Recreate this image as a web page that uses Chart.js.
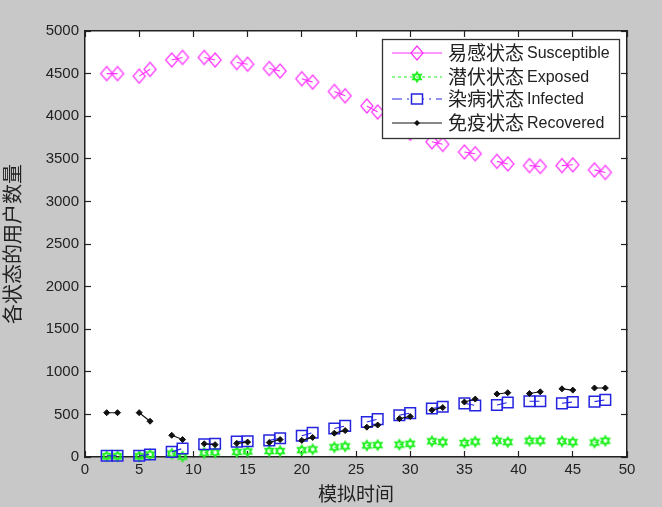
<!DOCTYPE html>
<html><head><meta charset="utf-8">
<script src="https://cdn.jsdelivr.net/npm/chart.js@4/dist/chart.umd.min.js"></script>
<style>html,body{margin:0;padding:0;background:#c8c8c8}canvas{display:block}</style>
</head><body>
<canvas id="c" width="662" height="507" style="width:662px;height:507px"></canvas>
<script>
const time = [2,3,4,5,6,7,8,9,10,11,12,13,14,15,16,17,18,19,20,21,22,23,24,25,26,27,28,29,30,31,32,33,34,35,36,37,38,39,40,41,42,43,44,45,46,47,48];
const susceptible = [4500,4500,null,4470,4550,null,4660,4690,null,4690,4660,null,4630,4610,null,4560,4530,null,4440,4400,null,4290,4240,null,4120,4050,null,3880,3800,null,3700,3670,null,3580,3560,null,3470,3440,null,3420,3410,null,3420,3430,null,3370,3340];
const exposed = [10,10,null,10,30,null,40,5,null,50,55,null,60,65,null,70,70,null,80,90,null,115,125,null,135,140,null,145,155,null,185,175,null,165,180,null,190,175,null,190,190,null,185,175,null,170,190];
const infected = [15,15,null,15,30,null,60,100,null,150,155,null,180,185,null,195,220,null,250,285,null,335,365,null,410,445,null,490,515,null,570,590,null,630,605,null,610,640,null,655,655,null,630,645,null,650,670];
const recovered = [520,520,null,520,420,null,255,205,null,155,145,null,160,175,null,170,205,null,195,230,null,280,310,null,350,375,null,450,475,null,550,580,null,645,680,null,740,755,null,745,765,null,800,785,null,810,810];
const seriesZh = ['易感状态','潜伏状态','染病状态','免疫状态'];
const seriesEn = ['Susceptible','Exposed','Infected','Recovered'];
const xTitle = '模拟时间';
const yTitle = '各状态的用户数量';

const MAGENTA='#ff30ff', GREEN='#20f020', BLUE='#2424e0', BLACK='#111111';
function sprite(w,h,fn){const s=document.createElement('canvas'),r=2;s.width=w*r;s.height=h*r;
  const g=s.getContext('2d');g.scale(r,r);fn(g,w/2,h/2);
  const out=document.createElement('canvas');out.width=w;out.height=h;out.getContext('2d').drawImage(s,0,0,w,h);return out;}
const diamond=sprite(16,18,(g,x,y)=>{g.strokeStyle=MAGENTA;g.lineWidth=1.3;g.beginPath();g.moveTo(x-6,y);g.lineTo(x,y-7);g.lineTo(x+6,y);g.lineTo(x,y+7);g.closePath();g.stroke();});
const hexagram=sprite(14,14,(g,x,y)=>{g.strokeStyle=GREEN;g.lineWidth=1.4;for(const a of [-Math.PI/2,Math.PI/2]){g.beginPath();for(let i=0;i<3;i++){const t=a+i*2*Math.PI/3;const px=x+5*Math.cos(t),py=y+5*Math.sin(t);i?g.lineTo(px,py):g.moveTo(px,py);}g.closePath();g.stroke();}});
const pts=a=>a.map((v,i)=>({x:time[i],y:v}));
const styles=[
 {color:MAGENTA,dash:[],point:diamond,radius:6,pw:1.2},
 {color:GREEN,dash:[3,3],point:hexagram,radius:5,pw:1.2},
 {color:BLUE,dash:[10,5,2,5],point:'rect',radius:7.5,pw:1.5},
 {color:BLACK,dash:[],point:'rectRot',radius:3,pw:1}
];
const seriesValues=[susceptible,exposed,infected,recovered];
const legendPlugin={id:'boxLegend',afterDraw(ch){const g=ch.ctx;g.save();
  const lx=382.5,ly=39.5,lw=237,lh=99;
  g.fillStyle='#fff';g.fillRect(lx,ly,lw,lh);g.strokeStyle='#333';g.lineWidth=1.3;g.strokeRect(lx,ly,lw,lh);
  const rows=[53,77,99,123];
  rows.forEach((y,i)=>{const s=styles[i];
    g.strokeStyle=s.color;g.lineWidth=1.2;g.setLineDash(s.dash);g.beginPath();g.moveTo(392,y);g.lineTo(442,y);g.stroke();g.setLineDash([]);
    if(i===0)g.drawImage(diamond,417-8,y-9);
    if(i===1)g.drawImage(hexagram,417-7,y-7);
    if(i===2){g.fillStyle='#fff';g.fillRect(411,y-5,12,10);g.strokeStyle=BLUE;g.lineWidth=1.5;g.strokeRect(411.5,y-5,11,10);}
    if(i===3){g.fillStyle=BLACK;g.beginPath();g.moveTo(417,y-3);g.lineTo(420,y);g.lineTo(417,y+3);g.lineTo(414,y);g.closePath();g.fill();}
    g.fillStyle='#222';g.textBaseline='middle';g.textAlign='left';
    g.font='19px "Noto Sans CJK SC"';g.fillText(seriesZh[i],448,y);
    g.font='16px "Liberation Sans"';g.fillText(seriesEn[i],527,y+1);
  });
  g.restore();}};
const bgPlugin={id:'bg',beforeDraw(ch){const g=ch.ctx,a=ch.chartArea;g.save();g.fillStyle='#c8c8c8';g.fillRect(0,0,ch.width,ch.height);g.fillStyle='#fff';g.fillRect(a.left,a.top,a.right-a.left,a.bottom-a.top);g.restore();}};
const tickFont={family:'"Liberation Sans"',size:15};
const axis=(extra)=>Object.assign({min:0,border:{color:'#222',width:1.5},grid:{drawOnChartArea:false,tickLength:-6,color:'#222',tickWidth:1.2},},extra);
new Chart(document.getElementById('c'),{
 type:'line',
 data:{datasets:seriesValues.map((v,i)=>({
   label:seriesEn[i],data:pts(v),order:4-i,borderColor:styles[i].color,backgroundColor:i===3?BLACK:'rgba(0,0,0,0)',
   borderWidth:1.1,borderDash:styles[i].dash,pointStyle:styles[i].point,pointRadius:styles[i].radius,pointHoverRadius:styles[i].radius,
   pointBorderColor:styles[i].color,pointBackgroundColor:i===3?BLACK:'rgba(0,0,0,0)',pointBorderWidth:styles[i].pw,spanGaps:false,tension:0,clip:false}))},
 options:{responsive:false,animation:false,devicePixelRatio:1,
  layout:{padding:{left:0,top:31,right:35,bottom:0}},
  plugins:{legend:{display:false},tooltip:{enabled:false}},
  scales:{
   x:axis({type:'linear',position:'bottom',max:50,afterFit:s=>{s.height=50},
     ticks:{stepSize:5,autoSkip:false,font:tickFont,color:'#222',padding:10,maxRotation:0,callback:v=>String(v)},
     title:{display:true,text:xTitle,color:'#222',font:{family:'"Noto Sans CJK SC"',size:19},padding:{top:0,bottom:2}}}),
   xTop:axis({type:'linear',position:'top',max:50,afterFit:s=>{s.height=0},ticks:{stepSize:5,autoSkip:false,display:false}}),
   y:axis({type:'linear',position:'left',max:5000,afterFit:s=>{s.width=85},
     ticks:{stepSize:500,autoSkip:false,font:tickFont,color:'#222',padding:12,callback:v=>String(v)},
     title:{display:true,text:yTitle,color:'#222',font:{family:'"Noto Sans CJK SC"',size:20},padding:{top:0,bottom:0}}}),
   yRight:axis({type:'linear',position:'right',max:5000,afterFit:s=>{s.width=0},ticks:{stepSize:500,autoSkip:false,display:false}})
  }},
 plugins:[bgPlugin,legendPlugin]
});
</script></body></html>
